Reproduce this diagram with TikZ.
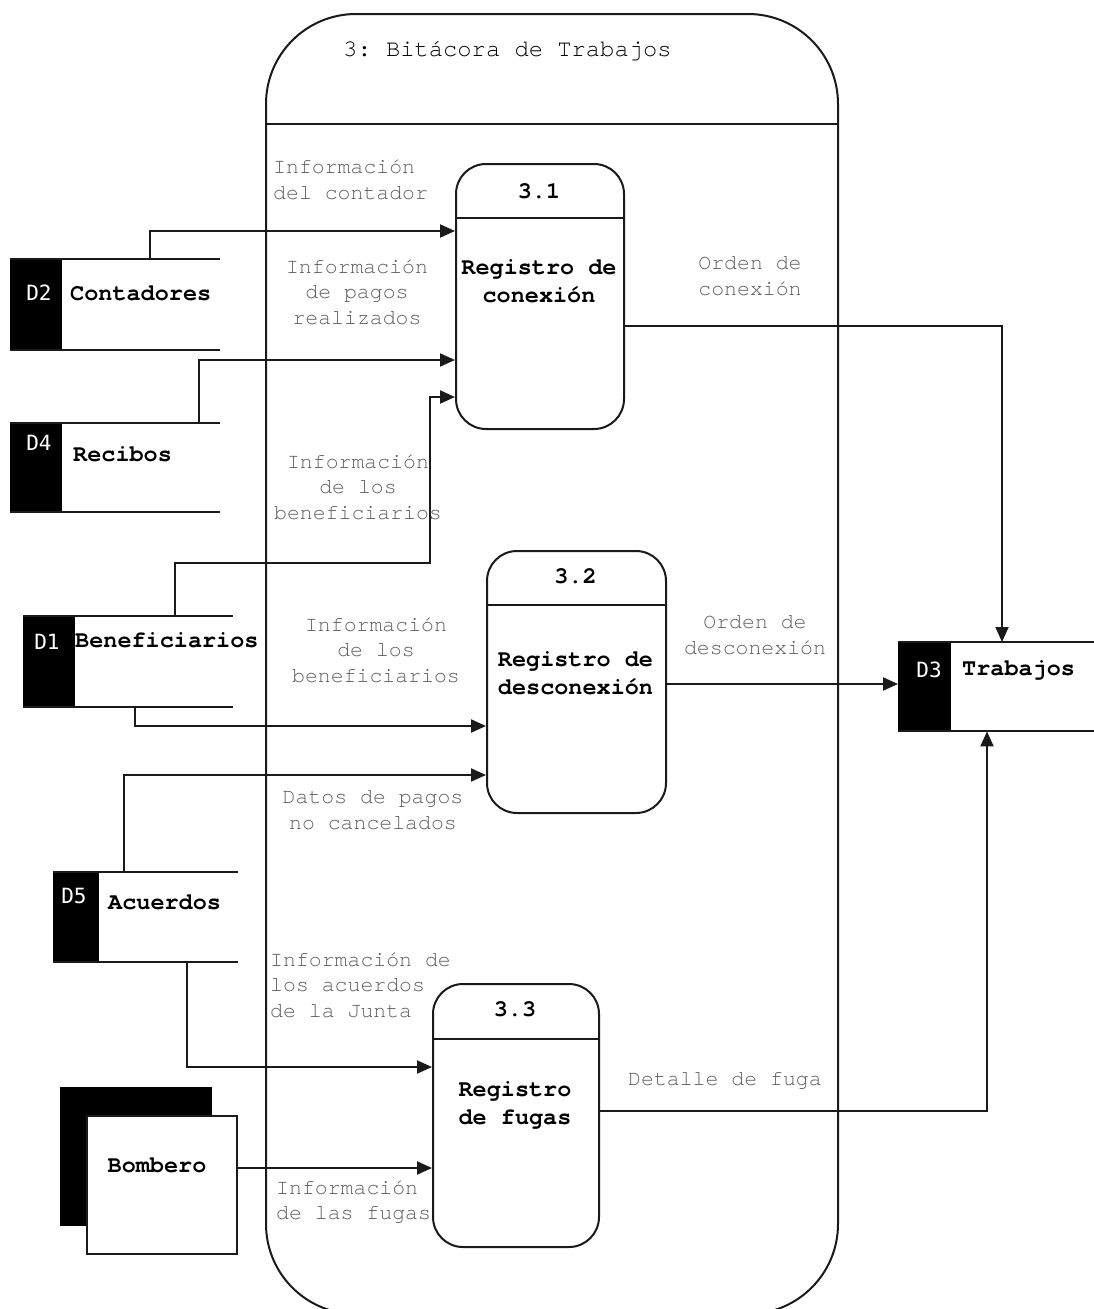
\documentclass[tikz,border=0pt]{standalone}
\usepackage{fontspec}
\setmonofont[Ligatures=NoCommon]{TeX Gyre Cursor}
\newfontfamily\dfont{DejaVu Sans Mono}
\usetikzlibrary{arrows.meta,calc}
\definecolor{lblgray}{HTML}{5E5E5E}
\definecolor{linec}{HTML}{1A1A1A}
\begin{document}
\begin{tikzpicture}[x=1pt,y=-1pt,
  lbl/.style={inner sep=0pt, font=\ttfamily\fontsize{21.5}{25.5}\selectfont, text=lblgray},
  ttl/.style={inner sep=0pt, font=\ttfamily\bfseries\fontsize{23.5}{28}\selectfont, text=black},
  dlab/.style={inner sep=0pt, font=\dfont\fontsize{21}{25}\selectfont, text=white},
  proc/.style={draw=linec, line width=2pt, rounded corners=30pt, fill=white, inner sep=0pt},
  storebox/.style={draw=none, inner sep=0pt, anchor=north west},
  storeline/.style={draw=linec, line width=2pt},
  conn/.style={draw=linec, line width=2pt, -{Triangle[length=15pt,width=13pt]}},
  flow/.style={draw=linec, line width=2pt}
]
\useasboundingbox (0,0) rectangle (1094,1309);
\fill[white] (0,0) rectangle (1094,1309);

% big process 3
\node[draw=linec, line width=2pt, rounded corners=90pt, minimum width=572pt, minimum height=1300pt, anchor=north west, inner sep=0pt] (big) at (265,13) {};
\draw[flow] (265,124) -- (837,124);
\node[inner sep=0pt, anchor=west, font=\ttfamily\fontsize{23.8}{28}\selectfont] (bigt) at (343,51) {3: Bitácora de Trabajos};

% processes
\node[proc, minimum width=168pt, minimum height=265pt, anchor=north west] (p1) at (455,163) {};
\draw[flow] ($(p1.north west)+(0,55)$) -- ($(p1.north east)+(0,55)$);
\node[ttl] (p1n) at (539,191) {3.1};
\node[ttl, align=center] (p1t) at (539,281) {Registro de\\conexión};

\node[proc, minimum width=179pt, minimum height=262pt, anchor=north west] (p2) at (486,550) {};
\draw[flow] ($(p2.north west)+(0,55)$) -- ($(p2.north east)+(0,55)$);
\node[ttl] (p2n) at (575.5,576) {3.2};
\node[ttl, align=center] (p2t) at (575.5,673) {Registro de\\desconexión};

\node[proc, minimum width=166pt, minimum height=263pt, anchor=north west] (p3) at (432,983) {};
\draw[flow] ($(p3.north west)+(0,56)$) -- ($(p3.north east)+(0,56)$);
\node[ttl] (p3n) at (515,1009) {3.3};
\node[ttl, align=center] (p3t) at (515,1105) {Registro\\de fugas};

% data stores
% D2
\node[storebox, minimum width=210pt, minimum height=91pt] (d2) at (10,259) {};
\fill[black] (d2.north west) rectangle ($(d2.south west)+(52,0)$);
\draw[storeline] (d2.north west) -- (d2.north east);
\draw[storeline] (d2.south west) -- (d2.south east);
\node[dlab] (d2l) at (39,293) {D2};
\node[ttl, anchor=west] (d2t) at (70,293) {Contadores};
% D4
\node[storebox, minimum width=210pt, minimum height=89pt] (d4) at (10,423) {};
\fill[black] (d4.north west) rectangle ($(d4.south west)+(52,0)$);
\draw[storeline] (d4.north west) -- (d4.north east);
\draw[storeline] (d4.south west) -- (d4.south east);
\node[dlab] (d4l) at (39,443) {D4};
\node[ttl, anchor=west] (d4t) at (73,454) {Recibos};
% D1
\node[storebox, minimum width=210pt, minimum height=91pt] (d1) at (23,616) {};
\fill[black] (d1.north west) rectangle ($(d1.south west)+(52,0)$);
\draw[storeline] (d1.north west) -- (d1.north east);
\draw[storeline] (d1.south west) -- (d1.south east);
\node[dlab] (d1l) at (47,642) {D1};
\node[ttl, anchor=west] (d1t) at (75,640) {Beneficiarios};
% D5
\node[storebox, minimum width=185pt, minimum height=90pt] (d5) at (53,872) {};
\fill[black] (d5.north west) rectangle ($(d5.south west)+(46,0)$);
\draw[storeline] (d5.north west) -- (d5.north east);
\draw[storeline] (d5.south west) -- (d5.south east);
\node[dlab] (d5l) at (74,896) {D5};
\node[ttl, anchor=west] (d5t) at (108,902) {Acuerdos};
% D3
\node[storebox, minimum width=200pt, minimum height=89pt] (d3) at (898,642) {};
\fill[black] (d3.north west) rectangle ($(d3.south west)+(53,0)$);
\draw[storeline] (d3.north west) -- (d3.north east);
\draw[storeline] (d3.south west) -- (d3.south east);
\node[dlab] (d3l) at (929,670) {D3};
\node[ttl, anchor=west] (d3t) at (962,670) {Trabajos};

% external entity Bombero
\fill[black] (60,1087) rectangle (212,1226);
\node[draw=linec, line width=2pt, fill=white, minimum width=150pt, minimum height=138pt, anchor=north west, inner sep=0pt] (bomb) at (86,1115) {};
\node[ttl] (bombt) at (157,1165) {Bombero};

% connectors
\draw[conn] ($(d2.north west)+(140,0)$) |- ($(p1.north west)+(0,68)$);
\draw[conn] ($(d4.north west)+(189,0)$) |- ($(p1.north west)+(0,197)$);
\draw[conn] ($(d1.north west)+(152,0)$) -- ++(0,-53) -| (430,397) -- ($(p1.north west)+(0,234)$);
\draw[conn] ($(d1.south west)+(112,0)$) |- ($(p2.north west)+(0,176)$);
\draw[conn] ($(d5.north west)+(71,0)$) |- ($(p2.north west)+(0,225)$);
\draw[conn] ($(d5.south west)+(134,0)$) |- ($(p3.north west)+(0,84)$);
\draw[conn] (bomb.east |- 0,1168) -- ($(p3.north west)+(0,185)$);
\draw[conn] ($(p1.north east)+(0,163)$) -| ($(d3.north west)+(104,0)$);
\draw[conn] ($(p2.north east)+(0,134)$) -- ($(d3.north west)+(0,42)$);
\draw[conn] ($(p3.north east)+(0,128)$) -| ($(d3.south west)+(89,0)$);

% labels
\node[lbl, align=left, anchor=west] (l1) at (273,180) {Información\\del contador};
\node[lbl, align=center] (l2) at (357,292) {Información\\de pagos\\realizados};
\node[lbl, align=center] (l3) at (358,487) {Información\\de los\\beneficiarios};
\node[lbl, align=center] (l4) at (376,650) {Información\\de los\\beneficiarios};
\node[lbl, align=center] (l5) at (373,810) {Datos de pagos\\no cancelados};
\node[lbl, align=left, anchor=west] (l6) at (270,985) {Información de\\los acuerdos\\de la Junta};
\node[lbl, align=left, anchor=west] (l7) at (276,1202) {Información\\de las fugas};
\node[lbl, align=center] (l8) at (750,276) {Orden de\\conexión};
\node[lbl, align=center] (l9) at (755,635) {Orden de\\desconexión};
\node[lbl, anchor=west] (l10) at (628,1081) {Detalle de fuga};
\end{tikzpicture}
\end{document}
